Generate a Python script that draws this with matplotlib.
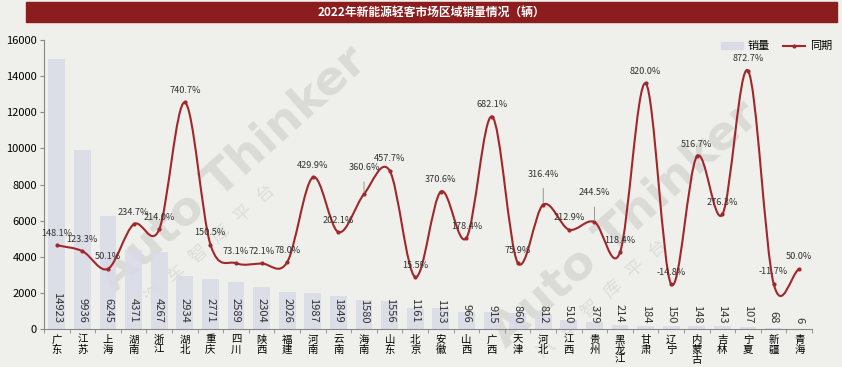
import matplotlib
matplotlib.use("Agg")
import matplotlib.pyplot as plt
import numpy as np
from matplotlib.path import Path
from matplotlib.patches import PathPatch, Patch, Rectangle
from matplotlib.lines import Line2D

plt.rcParams['font.family'] = ['Noto Sans CJK SC', 'DejaVu Sans']

regions = ['广东', '江苏', '上海', '湖南', '浙江', '湖北', '重庆', '四川', '陕西', '福建',
           '河南', '云南', '海南', '山东', '北京', '安徽', '山西', '广西', '天津', '河北',
           '江西', '贵州', '黑龙江', '甘肃', '辽宁', '内蒙古', '吉林', '宁夏', '新疆', '青海']
sales = [14923, 9936, 6245, 4371, 4267, 2934, 2771, 2589, 2304, 2026,
         1987, 1849, 1580, 1556, 1161, 1153, 966, 915, 860, 812,
         510, 379, 214, 184, 150, 148, 143, 107, 68, 6]
growth = [148.1, 123.3, 50.1, 234.7, 214.0, 740.7, 150.5, 73.1, 72.1, 78.0,
          429.9, 202.1, 360.6, 457.7, 15.5, 370.6, 178.4, 682.1, 75.9, 316.4,
          212.9, 244.5, 118.4, 820.0, -14.8, 516.7, 276.3, 872.7, -11.7, 50.0]
# labels that were pulled up with a leader line
lifted = {'海南': 19, '河北': 22, '贵州': 21}

bg = '#EFEFEB'
bar_color = '#D9DBE7'
line_color = '#A1272B'
title_color = '#8C1D1F'

fig = plt.figure(figsize=(8.42, 3.67), dpi=100, facecolor=bg)
ax = fig.add_axes([0.0523, 0.1035, 0.9121, 0.7875])
ax.set_facecolor('none')
ax.set_zorder(2)
ax2 = ax.twinx()
ax2.set_zorder(3)

# watermarks (behind the axes)
for (wx, wy) in [(0.135, 0.20), (0.60, 0.05)]:
    fig.text(wx, wy, 'Auto Thinker', fontsize=34, fontweight='bold', color='#DADAD6',
             rotation=42, rotation_mode='anchor', ha='left', va='baseline',
             family='DejaVu Sans', zorder=0)
    fig.text(wx + 0.045, wy - 0.03, '汽   车   智   库   平   台', fontsize=13, color='#DCDCD8',
             rotation=42, rotation_mode='anchor', ha='left', va='baseline', zorder=0)

x = np.arange(len(regions))
ax.bar(x, sales, width=0.66, color=bar_color, alpha=0.9, zorder=2)
for xi, v in zip(x, sales):
    ax.text(xi, 330, str(v), rotation=-90, ha='center', va='bottom',
            fontsize=8, color='#333333', zorder=3)

ax.set_xlim(-0.5, len(regions) - 0.5)
ax.set_ylim(0, 16000)
ax.set_yticks(np.arange(0, 16001, 2000))
ax.tick_params(axis='y', labelsize=8, length=3, color='#888888', pad=2)
ax.set_xticks(x)
ax.set_xticklabels(['\n'.join(r) for r in regions], fontsize=7.5, linespacing=1.0)
ax.tick_params(axis='x', length=0, pad=4)
ax.set_xticks(np.arange(-0.5, len(regions), 1), minor=True)
ax.tick_params(axis='x', which='minor', length=3, color='#888888')
for s in ['top', 'right']:
    ax.spines[s].set_visible(False)
for s in ['left', 'bottom']:
    ax.spines[s].set_color('#888888')
    ax.spines[s].set_linewidth(0.8)

# smoothed line through the growth points (Catmull-Rom as Bezier)
ax2.set_ylim(-200, 1000)
ax2.axis('off')
pts = np.column_stack([x, growth])
n = len(pts)
tan = np.zeros_like(pts)
tan[1:-1] = (pts[2:] - pts[:-2]) / 2
tan[0] = pts[1] - pts[0]
tan[-1] = pts[-1] - pts[-2]
verts = [pts[0]]
codes = [Path.MOVETO]
for i in range(n - 1):
    verts += [pts[i] + tan[i] / 3, pts[i + 1] - tan[i + 1] / 3, pts[i + 1]]
    codes += [Path.CURVE4] * 3
ax2.add_patch(PathPatch(Path(verts, codes), fill=False, edgecolor=line_color,
                        linewidth=1.5, zorder=4))
ax2.plot(x, growth, 'o', color=line_color, markersize=2.0, zorder=5)

for r, xi, g in zip(regions, x, growth):
    if r in lifted:
        ax2.annotate(f'{g:.1f}%', (xi, g), xytext=(0, lifted[r]), textcoords='offset points',
                     ha='center', va='center', fontsize=6.6, color='#333333', zorder=6,
                     arrowprops=dict(arrowstyle='-', color='#888888', lw=0.6,
                                     shrinkA=5, shrinkB=1))
    else:
        ax2.annotate(f'{g:.1f}%', (xi, g), xytext=(0, 8.5), textcoords='offset points',
                     ha='center', va='center', fontsize=6.6, color='#333333', zorder=6)

# title bar
fig.patches.append(Rectangle((26 / 842, 1 - 22 / 367), (837 - 26) / 842, 20 / 367,
                             transform=fig.transFigure, color=title_color, zorder=1))
fig.text(431.5 / 842, 1 - 12.5 / 367, '2022年新能源轻客市场区域销量情况（辆）',
         ha='center', va='center', color='white', fontsize=8.5, fontweight='bold')

handles = [Patch(color=bar_color),
           Line2D([], [], color=line_color, linewidth=1.5, marker='o', markersize=2.0)]
fig.legend(handles, ['销量', '同期'], loc='upper right', bbox_to_anchor=(1.0, 0.915),
           ncol=2, frameon=False, fontsize=8, handlelength=2.0, handleheight=0.6,
           columnspacing=1.2, handletextpad=0.4)

fig.savefig('out.png', dpi=100, facecolor=bg)
